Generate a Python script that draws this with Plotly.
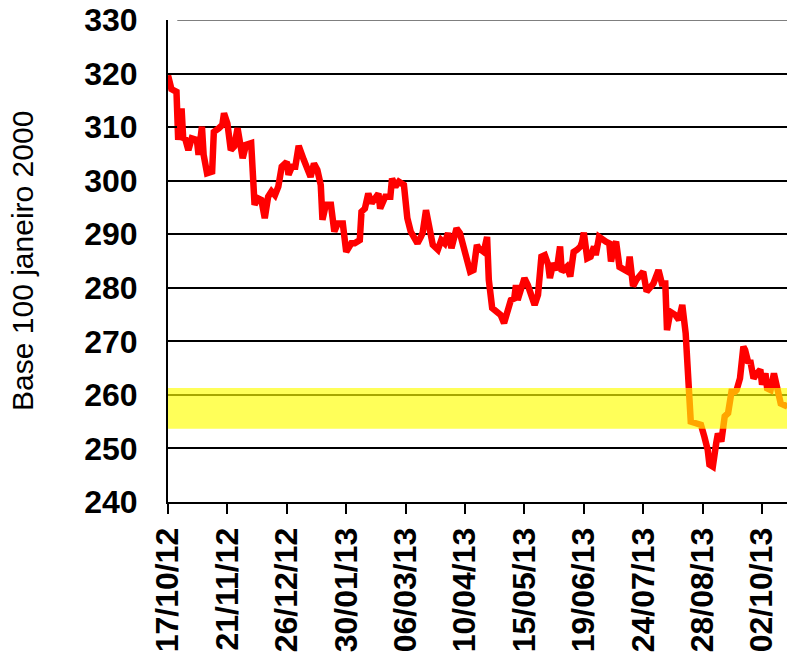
import pandas as pd
import plotly.graph_objects as go

# days elapsed since 17/10/2012 and index value (Base 100 janeiro 2000)
start_date = "2012-10-17"
days = [0, 2, 5, 6, 8, 9, 10, 12, 14, 17, 18, 20, 21, 23, 26, 27, 30, 32, 33, 35,
        37, 39, 41, 44, 46, 49, 51, 53, 55, 57, 59, 61, 63, 65, 67, 70, 71, 73, 75, 77,
        80, 82, 84, 86, 88, 90, 91, 93, 96, 98, 100, 103, 104, 105, 108, 110, 113, 114, 116, 118,
        120, 122, 124, 125, 128, 131, 132, 134, 136, 139, 141, 143, 145, 147, 149, 150, 152, 154, 156, 159,
        161, 163, 165, 167, 170, 172, 174, 176, 178, 180, 182, 183, 186, 188, 189, 191, 194, 196, 198, 200,
        202, 204, 205, 206, 208, 210, 212, 214, 216, 218, 220, 222, 224, 225, 227, 229, 231, 232, 235, 237,
        239, 241, 243, 244, 245, 247, 249, 251, 252, 254, 256, 258, 260, 261, 263, 264, 266, 268, 271, 272,
        274, 276, 280, 282, 284, 286, 289, 291, 293, 294, 296, 299, 301, 303, 305, 307, 308, 311, 314, 316,
        318, 319, 321, 323, 324, 326, 328, 330, 332, 334, 335, 337, 338, 339, 340, 342, 343, 345, 347, 349,
        350, 352, 353, 355, 357, 359, 361, 363, 365]
values = [319.7, 317.1, 316.6, 307.6, 313.5, 307.6, 308.0, 305.7, 307.9, 307.6, 304.8, 310.1, 304.8, 301.4, 301.7, 309.1, 309.8, 310.4, 312.6, 310.7,
          305.7, 306.4, 309.8, 304.2, 306.7, 307.0, 295.5, 296.7, 296.4, 293.0, 297.0, 298.0, 297.3, 298.9, 302.6, 303.5, 301.1, 302.6, 302.6, 306.5,
          303.9, 302.6, 300.7, 303.2, 302.0, 299.2, 292.7, 295.5, 295.5, 290.5, 292.0, 292.0, 289.9, 286.7, 288.3, 288.3, 288.9, 294.2, 294.8, 297.6,
          295.8, 296.7, 297.6, 294.8, 297.0, 297.0, 300.4, 298.9, 299.8, 299.2, 293.0, 290.5, 289.5, 288.3, 289.5, 290.2, 294.5, 291.4, 288.0, 287.1,
          288.9, 288.3, 290.2, 287.4, 291.1, 290.2, 287.4, 285.8, 283.0, 283.3, 288.0, 287.4, 286.7, 289.5, 281.5, 276.2, 275.5, 274.9, 273.4, 276.2,
          277.7, 278.0, 280.5, 277.7, 279.9, 281.8, 280.5, 279.0, 276.8, 278.7, 285.8, 286.1, 284.3, 281.8, 284.6, 283.3, 287.7, 283.0, 283.9, 282.1,
          286.7, 287.1, 287.7, 288.6, 290.3, 285.5, 285.8, 287.7, 286.1, 289.5, 288.9, 288.6, 288.3, 284.9, 288.0, 288.6, 283.9, 283.6, 283.0, 285.8,
          280.3, 281.5, 283.0, 279.3, 279.9, 280.8, 283.3, 280.8, 280.8, 272.1, 275.5, 274.9, 274.0, 276.8, 271.5, 260.3, 255.0, 254.7, 254.4, 252.2,
          249.7, 247.0, 246.6, 251.0, 252.8, 251.3, 256.0, 256.6, 260.6, 260.6, 260.9, 263.1, 265.9, 269.0, 268.4, 265.9, 266.5, 263.1, 264.0, 264.7,
          261.9, 264.0, 261.2, 260.9, 264.0, 260.9, 258.4, 258.1, 257.8]

tick_labels = ["17/10/12", "21/11/12", "26/12/12", "30/01/13", "06/03/13", "10/04/13",
               "15/05/13", "19/06/13", "24/07/13", "28/08/13", "02/10/13"]
y_ticks = [240, 250, 260, 270, 280, 290, 300, 310, 320, 330]
band_low, band_high = 253.7, 261.3
y_title = "Base 100 janeiro 2000"

dates = pd.Timestamp(start_date) + pd.to_timedelta(days, unit="D")
tick_dates = pd.to_datetime(tick_labels, format="%d/%m/%y")

FONT = "Liberation Sans, Arial, sans-serif"

fig = go.Figure()
fig.add_trace(go.Scatter(x=dates, y=values, mode="lines",
                         line=dict(color="#ff0000", width=6.5), hoverinfo="skip"))

fig.add_shape(type="rect", xref="paper", yref="y", x0=0, x1=1, y0=band_low, y1=band_high,
              fillcolor="rgba(255,255,0,0.65)", line=dict(width=0), layer="above")
fig.add_shape(type="line", xref="paper", yref="y", x0=0.015, x1=1, y0=330, y1=330,
              line=dict(color="#7f7f7f", width=2), layer="above")

fig.add_annotation(text=y_title, xref="paper", yref="paper", x=-0.236, y=0.5,
                   xanchor="center", yanchor="middle", textangle=-90, showarrow=False,
                   font=dict(family=FONT, size=30, color="#000"))

fig.update_layout(
    width=787, height=656,
    margin=dict(l=168, r=0, t=20, b=154),
    paper_bgcolor="white", plot_bgcolor="white",
    showlegend=False,
    xaxis=dict(type="date", range=[pd.Timestamp(start_date), pd.Timestamp(start_date) + pd.Timedelta(days=364.7)],
               tickmode="array", tickvals=tick_dates, ticktext=[f"<b>{t}</b>" for t in tick_labels],
               tickangle=-90, automargin=False,
               ticks="outside", ticklen=10, tickwidth=2, tickcolor="#000",
               showline=True, linecolor="#000", linewidth=2, showgrid=False, zeroline=False,
               tickfont=dict(family=FONT, size=32, color="#000"),
               ticklabelstandoff=1),
    yaxis=dict(range=[240, 330], tickmode="array", tickvals=y_ticks,
               ticktext=[f"<b>{v}</b>" for v in y_ticks], automargin=False,
               ticks="inside", ticklen=9, tickwidth=2, tickcolor="#000",
               showline=True, linecolor="#000", linewidth=2,
               showgrid=True, gridcolor="#000", gridwidth=1.5, zeroline=False,
               tickfont=dict(family=FONT, size=32, color="#000"),
               ticklabelstandoff=22),
)

fig.write_html("out.html", config={"displayModeBar": False},
               post_script="document.body.style.margin='0';document.body.style.overflow='hidden';")
